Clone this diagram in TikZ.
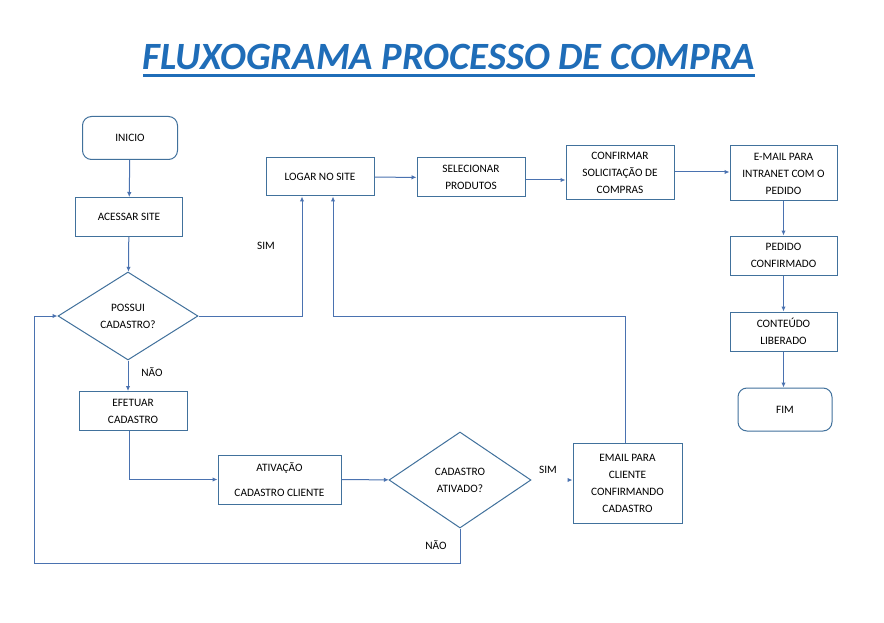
\documentclass[tikz,border=0pt]{standalone}
\usepackage{fontspec}
\setmainfont{Carlito}
\usepackage{tikz}
\usetikzlibrary{shapes.geometric,arrows.meta}
\definecolor{titleblue}{HTML}{1F6DB8}
\definecolor{boxline}{HTML}{41719C}
\definecolor{flowline}{HTML}{4A72B0}
\tikzset{> = {Latex[length=5pt,width=4.5pt]}, every picture/.style={line width=1pt}}

\begin{document}
\begin{tikzpicture}[x=1pt,y=-1pt]
\useasboundingbox[fill=white] (0,0) rectangle (884,623);

% title
\node (title) at (449,57) {\fontsize{38.6}{40}\selectfont\bfseries\itshape\color{titleblue}FLUXOGRAMA PROCESSO DE COMPRA};
\draw[titleblue, line width=2.4pt] (143,75.5) -- (755,75.5);

\begin{scope}[every node/.style={draw=boxline,align=center,font=\fontsize{11.3}{17}\selectfont,inner sep=1pt}]
\node[rounded corners=9pt,minimum width=95pt,minimum height=43pt] (inicio) at (130,138) {INICIO};
\node[minimum width=107pt,minimum height=39pt] (acessar) at (129,217) {ACESSAR SITE};
\node[diamond,minimum width=140pt,minimum height=88pt] (possui) at (128,316) {POSSUI\\CADASTRO?};
\node[minimum width=108pt,minimum height=39pt] (efetuar) at (133,411) {EFETUAR\\CADASTRO};
\node[minimum width=123pt,minimum height=49pt] (ativacao) at (279.5,479.5) {ATIVAÇÃO\\[8pt]CADASTRO CLIENTE};
\node[diamond,minimum width=142pt,minimum height=96pt] (ativado) at (460,480) {CADASTRO\\ATIVADO?};
\node[minimum width=109pt,minimum height=80pt] (emailcli) at (627.5,483) {EMAIL PARA\\CLIENTE\\CONFIRMANDO\\CADASTRO};
\node[minimum width=108pt,minimum height=38pt] (logar) at (320,177) {LOGAR NO SITE};
\node[minimum width=108pt,minimum height=39pt] (selec) at (471,177.5) {SELECIONAR\\PRODUTOS};
\node[minimum width=108pt,minimum height=54pt] (confirmar) at (620,173) {CONFIRMAR\\SOLICITAÇÃO DE\\COMPRAS};
\node[minimum width=107pt,minimum height=55pt] (intranet) at (783.5,173.5) {E-MAIL PARA\\INTRANET COM O\\PEDIDO};
\node[minimum width=107pt,minimum height=39pt] (pedido) at (783.5,255.5) {PEDIDO\\CONFIRMADO};
\node[minimum width=107pt,minimum height=39pt] (conteudo) at (783.5,331.5) {CONTEÚDO\\LIBERADO};
\node[rounded corners=9pt,minimum width=94pt,minimum height=43pt] (fim) at (785,409.5) {FIM};
\end{scope}

\begin{scope}[every node/.style={font=\fontsize{11.3}{12}\selectfont}]
\node (sim1) at (266,246) {SIM};
\node (nao1) at (152,372) {NÃO};
\node (sim2) at (548,470) {SIM};
\node (nao2) at (436,545) {NÃO};
\end{scope}

\begin{scope}[flowline]
\path [->] (inicio) edge (acessar);
\path [->] (acessar) edge (possui);
\draw [->] (possui.south) -- (possui.south |- efetuar.north);
\draw [->] (efetuar.south -| 129,0) |- (ativacao.west);
\draw [->] (ativacao) -- (ativado);
\draw [->, shorten <=36pt] (ativado.east) -- (emailcli.west |- ativado.east);
\draw [->] (ativado.south) -- (460,563) -- (34,563) |- (possui.west);
\draw [->] (possui.east) -| (302,0 |- logar.south);
\draw [->] (emailcli.north -| 625,0) |- (333,316) -- (333,0 |- logar.south);
\draw [->] (logar) -- (selec);
\draw [->] (selec.east |- 0,180) -- (confirmar.west |- 0,180);
\draw [->] (confirmar.east |- 0,172) -- (intranet.west |- 0,172);
\path [->] (intranet) edge (pedido);
\path [->] (pedido) edge (conteudo);
\draw [->] (conteudo.south) -- (conteudo.south |- fim.north);
\end{scope}
\end{tikzpicture}
\end{document}
